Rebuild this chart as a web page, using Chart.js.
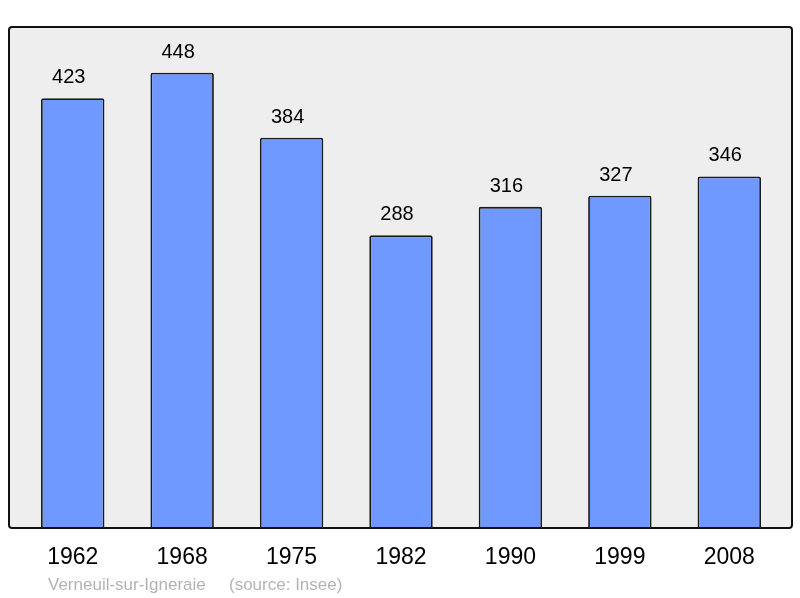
<!DOCTYPE html>
<html>
<head>
<meta charset="utf-8">
<script src="https://cdn.jsdelivr.net/npm/chart.js@4/dist/chart.umd.min.js"></script>
<style>
  html, body { margin: 0; padding: 0; background: #fff; }
  #wrap { width: 800px; height: 598px; }
</style>
</head>
<body>
<div id="wrap"><canvas id="myChart" width="800" height="598"></canvas></div>
<script>
const years = ['1962', '1968', '1975', '1982', '1990', '1999', '2008']
const population = [423, 448, 384, 288, 316, 327, 346]
const yMax = 493
const place = 'Verneuil-sur-Igneraie'
const source = '(source: Insee)'

// frame + grey background behind the bars
const framePlugin = {
    id: 'frame',
    beforeDraw(chart) {
        const ctx = chart.ctx
        const a = chart.chartArea
        const x = a.left - 9, y = a.top, w = a.right - a.left + 17, h = a.bottom - a.top
        ctx.save()
        ctx.beginPath()
        ctx.roundRect(x, y, w, h, 3)
        ctx.fillStyle = '#eeeeee'
        ctx.fill()
        ctx.restore()
    },
    afterDatasetsDraw(chart) {
        const ctx = chart.ctx
        const a = chart.chartArea
        const x = a.left - 9, y = a.top, w = a.right - a.left + 17, h = a.bottom - a.top
        ctx.save()
        ctx.beginPath()
        ctx.roundRect(x, y, w, h, 3)
        ctx.lineWidth = 2
        ctx.strokeStyle = '#111'
        ctx.stroke()

        // value labels
        ctx.font = '20px "Liberation Sans", Arial, sans-serif'
        ctx.fillStyle = '#000'
        ctx.textAlign = 'center'
        ctx.textBaseline = 'alphabetic'
        chart.getDatasetMeta(0).data.forEach((bar, i) => {
            ctx.fillText(population[i], bar.x - 4, bar.y - 15)
        })

        // source line
        ctx.font = '17px "Liberation Sans", Arial, sans-serif'
        ctx.fillStyle = '#b3b3b3'
        ctx.textAlign = 'left'
        ctx.fillText(place, 48, 590)
        ctx.fillText(source, 229, 590)
        ctx.restore()
    }
}

let ctx = document.getElementById('myChart').getContext('2d')
let myChart = new Chart(ctx, {
    type: 'bar',
    data: {
        labels: years,
        datasets: [{
            data: population,
            backgroundColor: '#7099ff',
            borderColor: '#1a1a1a',
            borderWidth: 1.8,
            borderSkipped: 'bottom',
            borderRadius: 2,
            barPercentage: 0.58,
            categoryPercentage: 1
        }]
    },
    options: {
        responsive: false,
        animation: false,
        layout: { padding: { left: 18, right: 16, top: 27, bottom: 0 } },
        plugins: {
            legend: { display: false },
            tooltip: { enabled: false }
        },
        scales: {
            y: {
                display: false,
                min: 0,
                max: yMax
            },
            x: {
                grid: { display: false },
                border: { display: false },
                ticks: {
                    color: '#000',
                    padding: 8,
                    font: { family: '"Liberation Sans", Arial, sans-serif', size: 23 }
                },
                afterFit(scale) { scale.height = 70 }
            }
        }
    },
    plugins: [framePlugin]
})
</script>
</body>
</html>
